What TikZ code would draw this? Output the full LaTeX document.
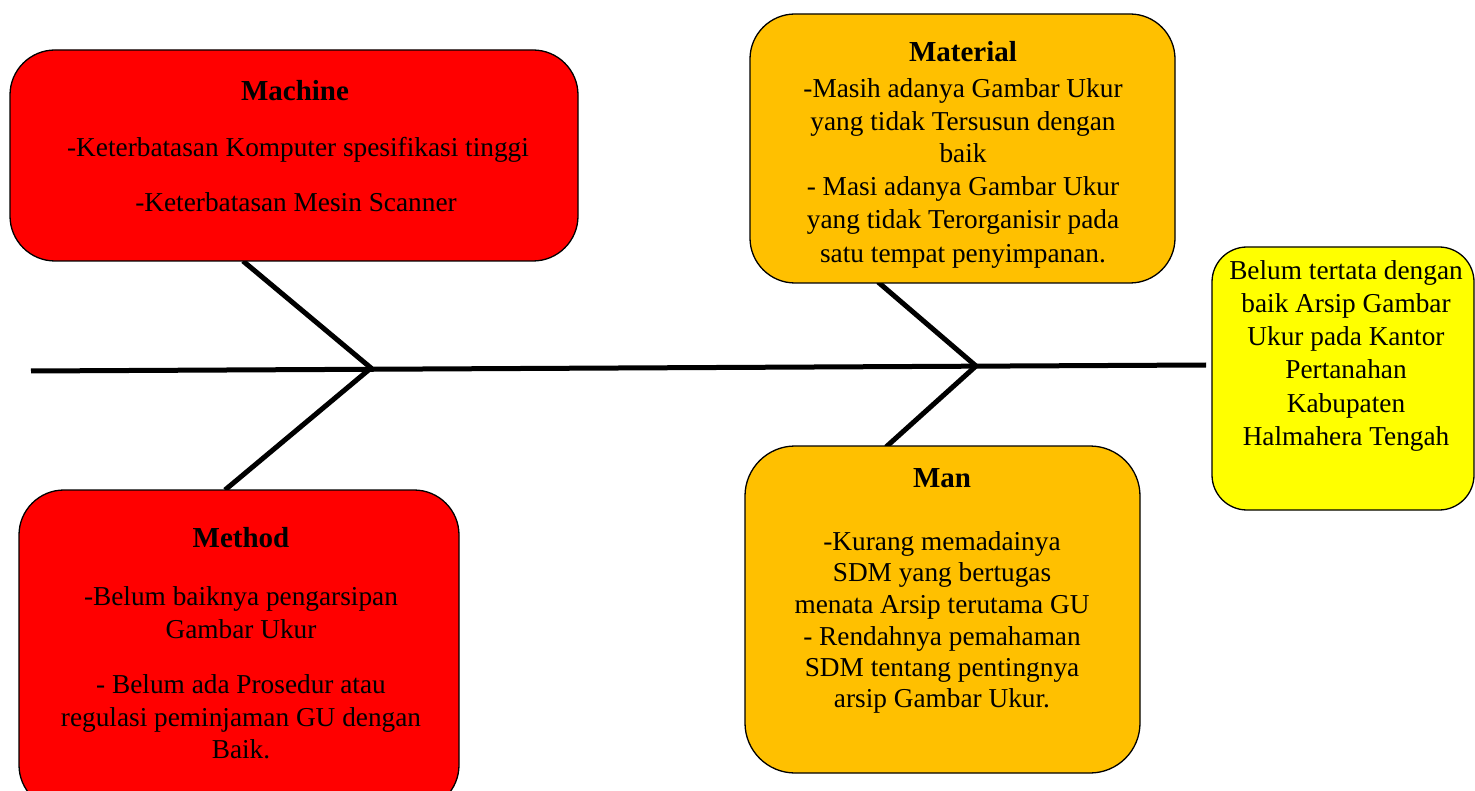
\documentclass[tikz,border=0pt]{standalone}
\usepackage{fontspec}
\setmainfont{Liberation Serif}
\definecolor{redbox}{HTML}{FF0000}
\definecolor{orangebox}{HTML}{FFC000}
\definecolor{yellowbox}{HTML}{FFFF00}
\begin{document}
\begin{tikzpicture}[x=1pt,y=-1pt,
  box/.style={draw=black,line width=1.3pt,inner sep=0pt,outer sep=0pt},
  txt/.style={anchor=base,inner sep=0pt,font=\fontsize{27.3}{33}\selectfont},
  ttl/.style={txt,font=\fontsize{29}{33}\selectfont\bfseries},
  bone/.style={line width=5pt,line join=miter}]
\useasboundingbox (0,0) rectangle (1475,791);
\fill[white] (0,0) rectangle (1475,791);
% junctions and free ends
\coordinate (spineL) at (31,371);
\coordinate (spineR) at (1206,365);
\coordinate (j1) at (371,368);
\coordinate (j2) at (976,366);
\coordinate (machEnd) at (243,261);
\coordinate (methEnd) at (225,490);
\coordinate (matEnd) at (878,282);
\coordinate (manEnd) at (886,447);
% spine and bones
\draw[bone] (spineL) -- (spineR);
\draw[bone] (machEnd) -- (j1) -- (methEnd);
\draw[bone] (matEnd) -- (j2) -- (manEnd);
% boxes
\node[box,fill=redbox,rounded corners=45pt,minimum width=568pt,minimum height=211pt] (mach) at (294,155.5) {};
\node[box,fill=orangebox,rounded corners=45pt,minimum width=425pt,minimum height=269pt] (mat) at (962.5,148.5) {};
\node[box,fill=yellowbox,rounded corners=35pt,minimum width=262pt,minimum height=263pt] (eff) at (1343,378.5) {};
\node[box,fill=redbox,rounded corners=45pt,minimum width=440pt,minimum height=320pt] (meth) at (239,650) {};
\node[box,fill=orangebox,rounded corners=50pt,minimum width=395pt,minimum height=327pt] (man) at (942.5,609.5) {};
% Machine text
\node[ttl] (machT) at (295,101) {Machine};
\node[txt] (mach1) at (298,157) {-Keterbatasan Komputer spesifikasi tinggi};
\node[txt] (mach2) at (296,212) {-Keterbatasan Mesin Scanner};
% Material text
\node[ttl] (matT) at (963,62) {Material};
\foreach \t/\y [count=\i] in {{-Masih adanya Gambar Ukur}/98,{yang tidak Tersusun dengan}/131,{baik}/163,{- Masi adanya Gambar Ukur}/196,{yang tidak Terorganisir pada}/229,{satu tempat penyimpanan.}/263}
  \node[txt] (mat\i) at (963,\y) {\t};
% Effect text
\foreach \t/\y [count=\i] in {{Belum tertata dengan}/280,{baik Arsip Gambar}/313,{Ukur pada Kantor}/346,{Pertanahan}/379,{Kabupaten}/412,{Halmahera Tengah}/445}
  \node[txt] (eff\i) at (1346,\y) {\t};
% Method text
\node[ttl] (methT) at (241,547) {Method};
\foreach \t/\y [count=\i] in {{-Belum baiknya pengarsipan}/605,{Gambar Ukur}/638,{- Belum ada Prosedur atau}/693,{regulasi peminjaman GU dengan}/726,{Baik.}/758}
  \node[txt] (meth\i) at (241,\y) {\t};
% Man text
\node[ttl] (manT) at (942,487) {Man};
\foreach \t/\y [count=\i] in {{-Kurang memadainya}/550,{SDM yang bertugas}/581,{menata Arsip terutama GU}/613,{- Rendahnya pemahaman}/645,{SDM tentang pentingnya}/676,{arsip Gambar Ukur.}/707}
  \node[txt] (man\i) at (942,\y) {\t};
\end{tikzpicture}
\end{document}
